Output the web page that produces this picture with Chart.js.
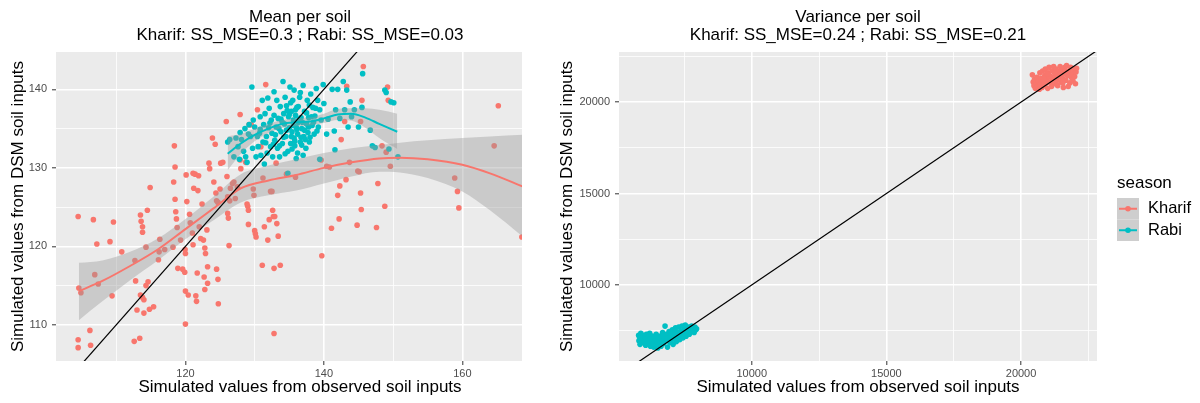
<!DOCTYPE html>
<html>
<head>
<meta charset="utf-8">
<script src="https://cdn.jsdelivr.net/npm/chart.js@4"></script>
<style>
body { margin: 0; background: #fff; width: 1200px; height: 403px; overflow: hidden; position: relative; }
#meanBox { position: absolute; left: 0; top: 0; width: 522px; height: 403px; overflow: hidden; }
#varBox { position: absolute; left: 540px; top: 0; width: 660px; height: 403px; }
</style>
</head>
<body>
<div id="meanBox"><canvas id="meanChart" width="600" height="403"></canvas></div>
<div id="varBox"><canvas id="varChart" width="660" height="403"></canvas></div>
<script>
const FONT = "'Liberation Sans', Arial, sans-serif";
const RED = '#F8766D', TEAL = '#00BFC4';
const seasons = ['Kharif', 'Rabi'];

// mean per soil: [observed, DSM]
const kharifMean = [[104.5,123.8],[104.5,108.1],[104.5,107.1],[104.6,114.7],[104.9,114.1],[106.2,109.3],[106.3,107.4],[106.7,123.4],[106.9,116.4],[107.2,120.3],[107.4,115.2],[109.1,120.6],[109.4,113.7],[109.6,123.1],[110.8,119.3],[112.6,107.9],[112.7,118.2],[112.8,115.6],[113.0,111.9],[113.4,108.3],[113.5,124.0],[113.5,113.8],[113.6,123.2],[113.8,122.5],[113.8,121.8],[113.8,113.5],[114.0,111.5],[114.0,113.2],[114.3,119.9],[114.3,115.0],[114.5,124.6],[114.6,115.5],[114.8,112.0],[114.9,127.5],[115.4,112.3],[116.1,118.3],[116.2,119.3],[116.3,120.9],[117.0,119.6],[118.2,119.9],[118.3,128.2],[118.4,132.8],[118.5,130.1],[118.5,126.0],[118.6,124.4],[118.7,123.5],[118.8,122.4],[118.9,117.2],[119.6,117.1],[119.3,120.8],[119.95,119.6],[120.0,119.1],[119.9,116.7],[120.0,114.3],[120.0,110.1],[120.1,129.1],[120.2,125.7],[120.4,113.8],[120.6,124.1],[120.7,123.0],[121.0,121.7],[121.1,120.2],[121.1,129.3],[121.2,127.4],[121.4,129.2],[121.5,113.7],[121.6,113.0],[121.7,116.6],[121.8,127.1],[121.9,129.0],[122.0,122.5],[122.2,121.0],[122.4,125.4],[122.6,120.8],[122.7,116.1],[122.8,114.5],[122.8,119.8],[122.9,119.1],[123.1,122.1],[123.2,117.4],[123.2,115.3],[123.4,130.6],[123.5,129.9],[123.9,133.8],[124.1,128.2],[124.3,133.0],[124.4,126.8],[124.5,125.8],[124.7,125.6],[124.5,117.1],[124.7,115.8],[124.75,112.7],[125.0,127.3],[125.1,130.6],[125.4,130.7],[125.9,135.9],[126.0,128.9],[126.1,126.3],[126.1,124.2],[126.2,123.6],[126.3,120.1],[126.4,125.8],[126.5,127.4],[126.8,128.0],[127.0,128.2],[127.2,126.1],[127.5,127.6],[127.9,136.8],[127.9,131.0],[128.0,129.9],[128.7,130.7],[128.9,125.4],[129.0,125.1],[129.1,124.6],[129.1,122.8],[129.2,135.5],[129.5,135.5],[129.8,127.3],[129.9,126.5],[130.0,122.0],[130.1,121.6],[130.2,121.2],[130.4,137.4],[130.9,132.7],[131.1,117.6],[131.2,128.7],[131.4,122.5],[131.6,140.6],[131.9,120.8],[132.1,123.4],[132.3,127.0],[132.5,127.0],[132.6,124.6],[132.7,123.8],[132.8,117.2],[132.8,108.9],[132.9,123.8],[133.1,130.6],[133.2,122.9],[133.4,121.3],[133.7,117.6],[134.6,129.2],[135.9,128.8],[139.6,131.0],[139.7,118.8],[140.4,130.2],[140.8,130.1],[141.1,122.3],[142.0,126.5],[142.2,123.5],[142.3,127.7],[142.5,133.6],[143.0,135.9],[143.2,128.5],[143.3,140.4],[143.7,130.7],[144.8,122.7],[144.9,129.6],[145.1,129.5],[145.3,126.8],[145.4,124.7],[145.5,138.6],[145.7,142.9],[145.3,135.9],[147.6,122.4],[147.8,128.0],[148.4,132.8],[148.8,125.1],[149.0,132.0],[149.2,140.3],[149.3,138.6],[149.6,130.2],[158.9,128.7],[159.3,127.0],[159.5,124.9],[164.6,132.8],[165.2,137.9],[168.6,121.2]];

const rabiMean = [[126.1,133.3],[126.4,133.6],[127.0,131.4],[127.3,133.8],[127.6,132.7],[127.8,131.1],[127.9,134.5],[128.1,133.6],[128.4,132.1],[128.6,135.0],[128.7,131.4],[128.9,130.7],[129.1,134.3],[129.2,135.5],[129.4,134.0],[129.6,140.3],[129.7,132.5],[129.8,136.1],[130.0,135.2],[130.2,131.4],[130.4,134.0],[130.5,132.7],[130.7,134.4],[130.8,136.5],[130.9,131.6],[131.1,138.6],[131.2,133.3],[131.3,135.5],[131.4,130.5],[131.5,136.9],[131.7,134.0],[131.8,131.9],[131.9,138.9],[132.0,135.1],[132.1,137.6],[132.3,132.7],[132.4,136.1],[132.5,134.4],[132.6,131.4],[132.8,139.7],[132.8,136.7],[132.9,133.5],[133.1,135.2],[133.2,138.6],[133.3,132.5],[133.4,136.3],[133.6,131.4],[133.7,137.8],[133.8,134.6],[134.0,133.1],[134.1,141.0],[134.2,136.9],[134.3,135.6],[134.4,139.0],[134.5,134.0],[134.6,137.9],[134.8,132.1],[134.9,136.5],[135.0,135.1],[135.1,140.3],[135.2,133.1],[135.3,137.2],[135.4,134.6],[135.5,138.6],[135.6,136.1],[135.7,133.8],[135.8,132.8],[135.9,136.7],[136.0,135.2],[136.1,137.7],[136.2,131.9],[136.2,134.3],[136.3,135.8],[136.5,139.0],[136.6,133.3],[136.7,136.4],[136.8,135.0],[137.0,140.5],[137.1,134.0],[137.2,137.2],[137.4,132.5],[137.5,135.6],[137.6,138.6],[137.7,134.5],[137.8,136.4],[137.9,133.3],[138.1,139.4],[138.3,135.4],[138.4,137.7],[138.6,134.3],[138.7,136.6],[138.9,140.1],[139.1,138.6],[139.2,135.2],[139.4,137.4],[139.6,136.1],[139.9,140.6],[140.0,138.2],[139.4,131.1],[140.4,134.3],[140.6,136.2],[141.2,140.0],[141.5,134.7],[141.7,137.4],[142.0,140.0],[141.6,132.3],[142.3,136.3],[142.8,141.0],[143.0,137.4],[143.3,139.9],[143.5,135.2],[143.8,138.4],[144.0,136.5],[144.4,137.4],[145.0,135.2],[145.5,137.7],[145.6,142.0],[146.7,134.8],[147.0,132.8],[147.4,132.6],[148.8,139.9],[149.0,139.6],[149.4,132.4],[149.7,138.4],[150.1,138.3],[150.7,131.4],[134.8,129.3],[133.5,135.0],[134.0,135.8],[134.6,134.8],[135.0,136.8],[135.3,134.0],[135.6,135.4],[135.9,137.4],[136.1,134.9],[136.4,136.2],[136.7,133.9],[136.9,135.8],[137.2,134.8],[137.5,137.0],[137.8,135.2],[138.0,133.9],[138.2,136.5],[134.2,133.9],[134.7,137.3],[135.2,138.3],[135.8,133.4],[136.3,137.8],[136.8,132.9],[137.3,133.6],[137.9,138.0],[138.5,135.8],[133.8,136.2],[133.0,134.2],[132.2,135.7],[131.6,133.2],[130.8,134.9],[135.4,132.4],[136.0,131.2],[137.0,131.6],[134.4,131.8],[133.6,132.8],[132.7,133.0],[139.0,134.7],[138.8,137.6],[136.6,139.6],[135.7,139.9]];

// loess fits with confidence band
const kharifSmoothX = [104.6, 108, 112, 116, 120, 124, 128, 132, 136, 140, 144, 148, 151, 155, 160, 164, 168.8];
const kharifFit     = [114.3, 115.6, 117.5, 119.6, 122.2, 124.8, 127.4, 128.4, 129.1, 130.0, 130.7, 131.2, 131.3, 131.1, 130.4, 129.3, 127.6];
const kharifUpper   = [117.9, 118.2, 119.3, 121.0, 123.5, 126.3, 129.2, 130.3, 131.1, 131.9, 132.5, 132.9, 133.2, 133.5, 133.8, 134.0, 134.2];
const kharifLower   = [110.6, 113.0, 115.7, 118.2, 120.9, 123.3, 125.6, 126.5, 127.1, 128.0, 128.9, 129.5, 129.4, 128.7, 127.0, 124.6, 121.2];

const rabiSmoothX = [126.1, 128, 130, 132, 134, 136, 138, 140, 142, 144, 146, 148, 150.6];
const rabiFit     = [131.8, 133.1, 134.2, 135.0, 135.6, 135.8, 135.9, 136.3, 136.8, 136.9, 136.4, 135.6, 134.6];
const rabiUpper   = [134.0, 134.3, 135.0, 135.6, 136.1, 136.3, 136.4, 136.9, 137.5, 137.6, 137.6, 137.4, 136.9];
const rabiLower   = [129.7, 131.8, 133.4, 134.4, 135.1, 135.3, 135.4, 135.7, 136.1, 136.0, 135.1, 133.8, 132.4];

// variance per soil: [observed, DSM]
const kharifVar = [[20420,21490],[20450,21100],[20480,20900],[20500,21250],[20530,20750],[20560,21050],[20590,21350],[20620,20850],[20650,21150],[20680,20700],[20700,21600],[20720,21000],[20750,21300],[20780,20800],[20800,21700],[20830,21150],[20860,20950],[20880,21450],[20900,21800],[20930,21050],[20960,21250],[20990,20750],[21010,21600],[21040,21900],[21070,21100],[21100,21400],[21130,20850],[21150,21700],[21180,21250],[21210,21950],[21240,21000],[21270,21500],[21300,21800],[21330,21200],[21360,20900],[21390,21650],[21420,21400],[21450,21950],[21480,21100],[21510,21750],[21540,21300],[21570,20800],[21600,21550],[21630,21900],[21660,21200],[21690,22000],[21720,21450],[21750,20850],[21780,21700],[21810,21050],[21840,21900],[21870,21350],[21900,21600],[21930,21150],[21960,21800],[21990,21400],[22020,21000],[22040,21650],[22060,21850],[21250,21600],[21050,21400],[20850,21300],[21450,21500],[21650,21700],[20980,21550],[21350,21350],[21550,21050],[21150,21100],[21800,21500]];

const rabiVar = [[5800,7250],[5810,6950],[5830,7150],[5850,6750],[5880,7350],[5900,7050],[5930,6850],[5960,7250],[6000,6950],[6030,7150],[6060,6700],[6090,7300],[6120,6900],[6150,7100],[6180,6800],[6210,7350],[6240,6650],[6270,7000],[6300,7200],[6330,6850],[6360,6600],[6390,7100],[6420,6950],[6450,7300],[6480,6750],[6510,6550],[6540,7050],[6570,6900],[6600,7200],[6630,6650],[6660,7000],[6690,7400],[6720,6800],[6750,7150],[6780,7750],[6810,6950],[6840,7300],[6870,6600],[6900,7100],[6930,7450],[6960,6850],[6990,7200],[7020,7000],[7050,7550],[7080,6750],[7110,7300],[7140,7050],[7170,7650],[7200,6900],[7230,7400],[7260,7150],[7290,7700],[7320,7000],[7350,7450],[7380,7250],[7410,7750],[7440,7100],[7470,7500],[7500,7300],[7530,7800],[7560,7200],[7590,7550],[7620,7400],[7650,7700],[7680,7300],[7710,7600],[7740,7450],[7770,7750],[7800,7500],[7830,7650],[7860,7400],[7890,7700],[7920,7550],[7950,7600],[6500,7100],[6700,7200],[6200,7000],[7000,7350],[6850,7050],[7150,7400]];

// axis ticks (minor ones get a grid line but no label)
const meanXTicks = [110, 120, 130, 140, 150, 160, 170];
const meanXMajor = [120, 140, 160];
const meanYTicks = [110, 115, 120, 125, 130, 135, 140];
const meanYMajor = [110, 120, 130, 140];
const varTicks = [7500, 10000, 12500, 15000, 17500, 20000, 22500];
const varMajor = [10000, 15000, 20000];

const xTitle = 'Simulated values from observed soil inputs';
const yTitle = 'Simulated values from DSM soil inputs';

const panelBg = {
  id: 'panelBg',
  beforeDraw(chart) {
    const a = chart.chartArea, c = chart.ctx;
    c.save();
    c.fillStyle = '#EBEBEB';
    c.fillRect(a.left, a.top, a.right - a.left, a.bottom - a.top);
    c.restore();
  }
};

function axis(ticks, majors, min, max, title, isX, size, titlePad) {
  return {
    type: 'linear', min: min, max: max, bounds: 'data',
    afterBuildTicks: s => { s.ticks = ticks.map(v => ({ value: v })); },
    afterFit: s => { if (isX) s.height = size; else s.width = size; },
    border: { display: false },
    grid: {
      color: '#FFFFFF',
      lineWidth: c => majors.includes(c.tick.value) ? 1.6 : 0.8,
      tickColor: c => majors.includes(c.tick.value) ? '#333333' : 'rgba(0,0,0,0)',
      tickLength: 4, tickWidth: 1
    },
    ticks: {
      autoSkip: false, maxRotation: 0, padding: isX ? 2 : 5, color: '#4D4D4D',
      font: { family: FONT, size: 11 },
      callback: v => majors.includes(v) ? String(v) : ''
    },
    title: {
      display: true, text: title, color: '#000000',
      font: { family: FONT, size: 17 },
      padding: isX ? { top: 0, bottom: 5 } : { top: titlePad, bottom: 0 }
    }
  };
}

function pts(list) { return list.map(p => ({ x: p[0], y: p[1] })); }
function curve(xs, ys) { return xs.map((x, i) => ({ x: x, y: ys[i] })); }

function scatterSet(label, list, color, order) {
  return { label: label, data: pts(list), backgroundColor: color, borderColor: color,
           pointRadius: 2.8, pointBorderWidth: 0, showLine: false, order: order };
}
function bandSet(xs, ys, fill) {
  return { data: curve(xs, ys), showLine: true, pointRadius: 0, borderWidth: 0,
           borderColor: 'rgba(0,0,0,0)', backgroundColor: 'rgba(153,153,153,0.4)',
           cubicInterpolationMode: 'monotone', fill: fill, order: 2 };
}
function lineSet(xs, ys, color) {
  return { data: curve(xs, ys), showLine: true, pointRadius: 0, borderWidth: 2,
           borderColor: color, cubicInterpolationMode: 'monotone', fill: false, order: 1 };
}
function ablineSet(lo, hi) {
  return { data: [{ x: lo, y: lo }, { x: hi, y: hi }], showLine: true, pointRadius: 0,
           borderWidth: 1.2, borderColor: '#000000', fill: false, order: 0 };
}

function titleOpts(lines) {
  return { display: true, text: lines, fullSize: false, color: '#000000',
           font: { family: FONT, size: 17, weight: 'normal', lineHeight: 1.06 },
           padding: { top: 8, bottom: 8 } };
}

new Chart('meanChart', {
  type: 'scatter',
  data: {
    datasets: [
      scatterSet(seasons[0], kharifMean, RED, 5),
      scatterSet(seasons[1], rabiMean, TEAL, 4),
      bandSet(kharifSmoothX, kharifUpper, false),
      bandSet(kharifSmoothX, kharifLower, '-1'),
      bandSet(rabiSmoothX, rabiUpper, false),
      bandSet(rabiSmoothX, rabiLower, '-1'),
      lineSet(kharifSmoothX, kharifFit, RED),
      lineSet(rabiSmoothX, rabiFit, TEAL),
      ablineSet(95, 180)
    ]
  },
  options: {
    responsive: false, animation: false, events: [],
    layout: { padding: { left: 0, right: 56, top: 0, bottom: 0 } },
    plugins: {
      legend: { display: false }, tooltip: { enabled: false },
      title: titleOpts(['Mean per soil', 'Kharif: SS_MSE=0.3 ; Rabi: SS_MSE=0.03'])
    },
    scales: {
      x: axis(meanXTicks, meanXMajor, 101.3, 171.8, xTitle, true, 42),
      y: axis(meanYTicks, meanYMajor, 105.4, 144.75, yTitle, false, 56, 8)
    }
  },
  plugins: [panelBg]
});

const seasonLegend = {
  id: 'seasonLegend',
  afterDraw(chart) {
    const c = chart.ctx, x0 = chart.chartArea.right + 20;
    c.save();
    c.fillStyle = '#000000';
    c.textBaseline = 'middle';
    c.textAlign = 'left';
    c.font = '17px ' + FONT;
    c.fillText('season', x0, 183);
    [RED, TEAL].forEach((col, i) => {
      const top = 198 + i * 21.5, mid = top + 10.75;
      c.fillStyle = '#CECECE';
      c.fillRect(x0, top, 22, 21.5);
      c.strokeStyle = col;
      c.lineWidth = 2;
      c.beginPath(); c.moveTo(x0 + 2, mid); c.lineTo(x0 + 20, mid); c.stroke();
      c.fillStyle = col;
      c.beginPath(); c.arc(x0 + 11, mid, 2.8, 0, Math.PI * 2); c.fill();
      c.fillStyle = '#000000';
      c.font = '16.5px ' + FONT;
      c.fillText(seasons[i], x0 + 31, mid);
    });
    c.restore();
  }
};

new Chart('varChart', {
  type: 'scatter',
  data: {
    datasets: [
      scatterSet(seasons[0], kharifVar, RED, 5),
      scatterSet(seasons[1], rabiVar, TEAL, 4),
      ablineSet(4000, 24000)
    ]
  },
  options: {
    responsive: false, animation: false, events: [],
    layout: { padding: { left: 0, right: 103, top: 0, bottom: 0 } },
    plugins: {
      legend: { display: false }, tooltip: { enabled: false },
      title: titleOpts(['Variance per soil', 'Kharif: SS_MSE=0.24 ; Rabi: SS_MSE=0.21'])
    },
    scales: {
      x: axis(varTicks, varMajor, 5070, 22820, xTitle, true, 42),
      y: axis(varTicks, varMajor, 5840, 22737, yTitle, false, 79, 17)
    }
  },
  plugins: [panelBg, seasonLegend]
});
</script>
</body>
</html>
